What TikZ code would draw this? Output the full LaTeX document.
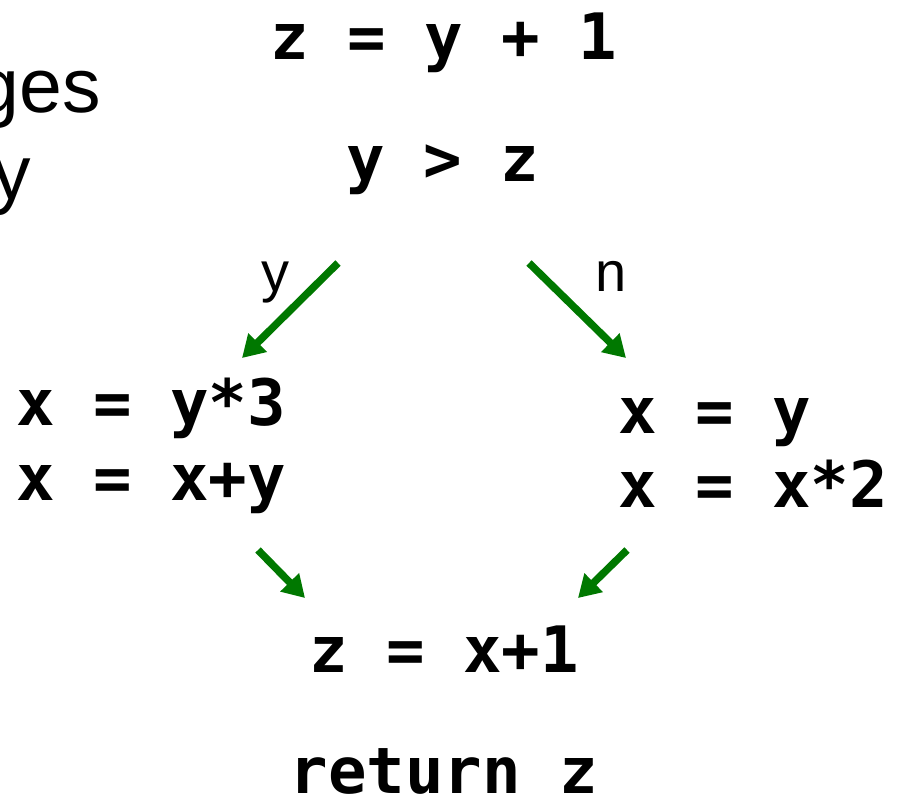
\documentclass[tikz,border=0pt]{standalone}
\usepackage{fontspec}
\setmainfont{Liberation Sans}
\newfontfamily\codefont{DejaVu Sans Mono}
\usetikzlibrary{arrows.meta}
\definecolor{arrgreen}{RGB}{0,120,0}
\tikzset{
  code/.style={inner sep=0pt, font=\codefont\bfseries\fontsize{64}{70}\selectfont},
  slide/.style={inner sep=0pt, font=\fontsize{77}{88}\selectfont},
  lbl/.style={inner sep=0pt, font=\fontsize{56}{62}\selectfont},
  flow/.style={draw=arrgreen, line width=7.5pt, -{Triangle[length=22pt,width=25pt]}},
}
\begin{document}
\begin{tikzpicture}[x=1pt,y=-1pt]
\useasboundingbox (0,0) rectangle (901,796);
% left slide text (cut off)
\node[slide, anchor=base east] (t1) at (101,112) {ges};
\node[slide, anchor=base east] (t2) at (31,199) {y};
% code
\node[code, anchor=base] (s1) at (444,59) {z = y + 1};
\node[code, anchor=base] (s2) at (443,181) {y > z};
\node[code, anchor=base west] (l1) at (16,425) {x = y*3};
\node[code, anchor=base west] (l2) at (16,500) {x = x+y};
\node[code, anchor=base west] (r1) at (618,433) {x = y};
\node[code, anchor=base west] (r2) at (618,507) {x = x*2};
\node[code, anchor=base] (j1) at (444,672) {z = x+1};
\node[code, anchor=base] (j2) at (444,793) {return z};
% branch labels
\node[lbl, anchor=base] (ly) at (275,291) {y};
\node[lbl, anchor=base] (ln) at (611,291) {n};
% arrow endpoints
\coordinate (a1s) at (338,263); \coordinate (a1e) at (242,358);
\coordinate (a2s) at (529,263); \coordinate (a2e) at (626,358);
\coordinate (a3s) at (258,550); \coordinate (a3e) at (305,598);
\coordinate (a4s) at (627,550); \coordinate (a4e) at (578,598);
\draw[flow] (a1s) -- (a1e);
\draw[flow] (a2s) -- (a2e);
\draw[flow] (a3s) -- (a3e);
\draw[flow] (a4s) -- (a4e);
\end{tikzpicture}
\end{document}
